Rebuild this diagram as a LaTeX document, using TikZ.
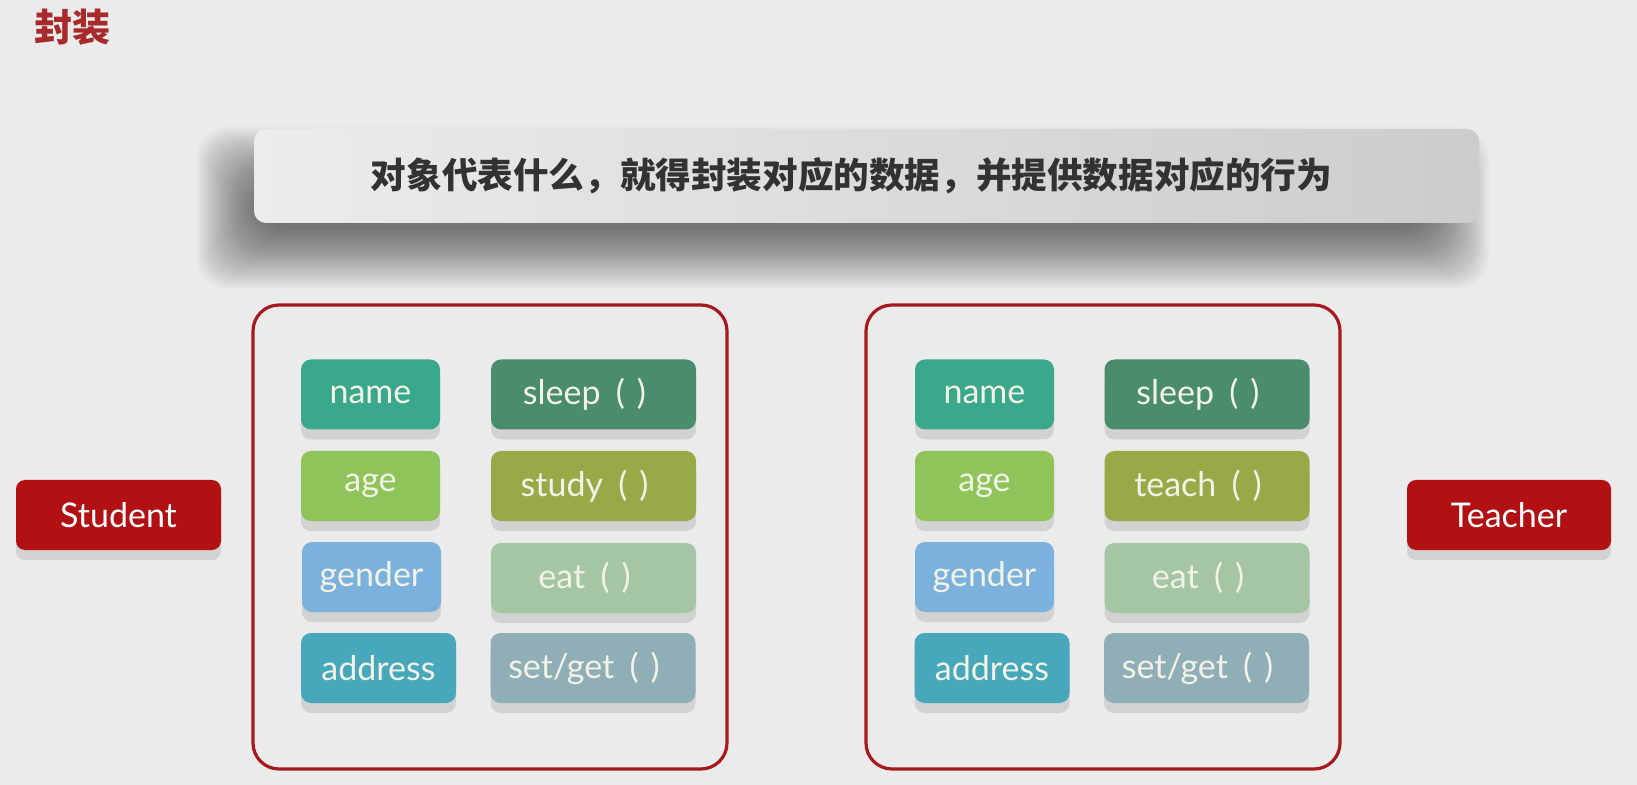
\documentclass[tikz,border=0pt]{standalone}
\usepackage{fontspec}
\setmainfont{Lato}
\newfontfamily\cjk{Noto Sans CJK SC}
\usepackage{xcolor}
\usetikzlibrary{shadows}

\definecolor{bg}{RGB}{235,235,235}
\definecolor{titlered}{RGB}{168,42,42}
\definecolor{framered}{RGB}{166,26,30}
\definecolor{classred}{RGB}{178,17,20}
\definecolor{chiptext}{RGB}{242,242,230}
\definecolor{chipshadow}{RGB}{210,210,210}
\definecolor{cname}{RGB}{58,169,139}
\definecolor{cage}{RGB}{143,196,90}
\definecolor{cgender}{RGB}{123,178,221}
\definecolor{caddress}{RGB}{70,168,186}
\definecolor{csleep}{RGB}{74,140,110}
\definecolor{cstudy}{RGB}{152,170,72}
\definecolor{ceat}{RGB}{164,198,165}
\definecolor{cset}{RGB}{143,174,181}

\newcommand{\call}{\hspace{0.45em}(\hspace{0.35em})}

\begin{document}
\begin{tikzpicture}[x=0.5pt, y=-0.5pt,
    chip/.style={rounded corners=5pt, minimum height=35pt, inner sep=0pt, text=chiptext,
      font=\fontsize{17}{19}\selectfont, general shadow={fill=chipshadow, shadow yshift=-5pt}},
    attr/.style={chip, minimum width=69.5pt},
    meth/.style={chip, minimum width=102.5pt},
    frame/.style={draw=framered, line width=1.6pt, rounded corners=13pt},
    classbox/.style={chip, fill=classred, minimum width=102.5pt, rounded corners=4.5pt, text=white}]
    % background and page size
    \fill[bg] (0,0) rectangle (1637,785);

    % heading
    \node[text=titlered, font=\cjk\bfseries\fontsize{19}{21}\selectfont] (title) at (72,27) {封装};

    % soft shadow under the banner
    \foreach \i in {0,2,...,60}
      \fill[black, opacity=0.019, rounded corners=16pt] (196+\i,127+\i) rectangle (1489-\i,289-\i);

    % banner
    \node[rounded corners=6pt, minimum width=612.5pt, minimum height=47pt, inner sep=0pt,
      left color={rgb,255:red,236;green,236;blue,236}, right color={rgb,255:red,204;green,204;blue,204}]
      (banner) at (866.5,176) {};
    \node[text={rgb,255:red,50;green,50;blue,50}, font=\cjk\bfseries\fontsize{17.8}{20}\selectfont]
      (motto) at ([xshift=-7.5pt]banner.center) {对象代表什么，就得封装对应的数据，并提供数据对应的行为};

    % Student
    \draw[frame] (253,305) rectangle (727,769);
    \node[attr, fill=cname] (sname) at (370.5,394.5) {name};
    \node[attr, fill=cage] (sage) at (370.5,486) {age};
    \node[attr, fill=cgender] (sgender) at (371.5,577) {gender};
    \node[attr, fill=caddress, minimum width=77.5pt] (saddress) at (378.5,668) {address};
    \node[meth, fill=csleep] (ssleep) at (593.5,394.5) {sleep\call\kern9pt};
    \node[meth, fill=cstudy] (sstudy) at (593.5,486) {study\call\kern9pt};
    \node[meth, fill=ceat] (seat) at (593.5,578) {eat\call\kern9pt};
    \node[meth, fill=cset] (sset) at (593,668) {set/get\call\kern9pt};
    \node[classbox] (student) at (118.5,515) {Student};

    % Teacher
    \draw[frame] (866,305) rectangle (1340,769);
    \node[attr, fill=cname] (tname) at (984.5,394.5) {name};
    \node[attr, fill=cage] (tage) at (984.5,486) {age};
    \node[attr, fill=cgender] (tgender) at (984.5,577) {gender};
    \node[attr, fill=caddress, minimum width=77.5pt] (taddress) at (992,668) {address};
    \node[meth, fill=csleep] (tsleep) at (1207,394.5) {sleep\call\kern9pt};
    \node[meth, fill=cstudy] (tteach) at (1207,486) {teach\call\kern9pt};
    \node[meth, fill=ceat] (teat) at (1207,578) {eat\call\kern9pt};
    \node[meth, fill=cset] (tset) at (1206.5,668) {set/get\call\kern9pt};
    \node[classbox, minimum width=102pt] (teacher) at (1509,515) {Teacher};
\end{tikzpicture}
\end{document}
